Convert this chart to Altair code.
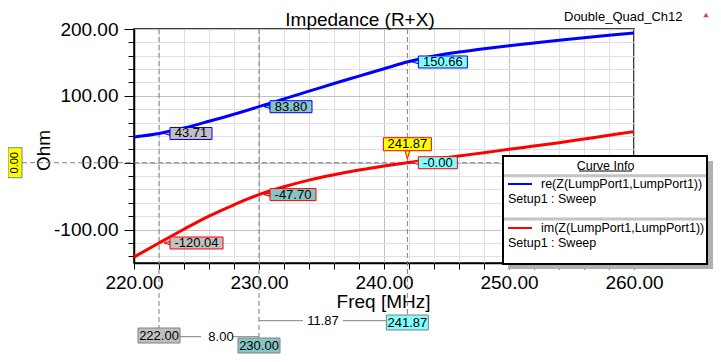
import altair as alt
import pandas as pd

# ---------------- data ----------------
freq = [220, 222, 224, 226, 228, 230, 232, 234, 236, 238, 240,
        242, 244, 246, 248, 250, 252, 254, 256, 258, 260]
re_z = [38.5, 43.71, 52.0, 62.0, 72.5, 83.80, 95.5, 107.0, 118.5, 129.5, 140.5,
        151.3, 159.5, 165.5, 170.5, 175.0, 179.2, 183.2, 187.0, 190.6, 194.0]
im_z = [-141.0, -120.04, -99.5, -80.0, -63.0, -47.70, -36.0, -26.0, -18.0, -11.0, -5.0,
        0.4, 5.3, 10.0, 15.0, 20.0, 25.0, 30.0, 35.5, 41.0, 46.5]
series_names = ["re(Z(LumpPort1,LumpPort1))", "im(Z(LumpPort1,LumpPort1))"]

marker_freq = [222.0, 230.0, 241.87]
re_marks = [43.71, 83.80, 150.66]
re_labels = ["43.71", "83.80", "150.66"]
im_marks = [-120.04, -47.70, 0.0]
im_labels = ["-120.04", "-47.70", "-0.00"]
freq_labels = ["222.00", "230.00", "241.87"]
delta_labels = ["8.00", "11.87"]
x_ticks = [220, 222, 224, 226, 228, 230, 232, 234, 236, 238, 240,
           242, 244, 246, 248, 250, 252, 254, 256, 258, 260]
y_ticks = [-140, -120, -100, -80, -60, -40, -20, 0, 20, 40, 60, 80,
           100, 120, 140, 160, 180, 200]

# ---------------- styles ----------------
FONT = "Liberation Sans"
BLUE, RED = "#0000ff", "#ff0000"
GRAY_BOX, TEAL_BOX, CYAN_BOX, YELLOW = "#c0c0c0", "#86c5c5", "#80ffff", "#ffff00"
DASH_GRAY = "#808080"
box_fills = [GRAY_BOX, TEAL_BOX, CYAN_BOX]
re_w = [42, 42, 49]
im_w = [53, 46, 39]
LEFT_TRI = "M -1 0 L 1 -0.6 L 1 0.6 Z"
DOWN_TRI = "M 0 1 L -0.6 -1 L 0.6 -1 Z"

xscale = alt.Scale(domain=[220, 260], nice=False, zero=False)
yscale = alt.Scale(domain=[-150, 200], nice=False, zero=False)

x_axis = alt.Axis(
    values=x_ticks,
    labelExpr="datum.value % 10 === 0 ? datum.value + '.00' : ''",
    title="Freq [MHz]", titleX=249, titleY=44, titleAlign="center",
    titleBaseline="alphabetic", titleFontSize=19, titleFontWeight="normal",
    labelFontSize=19, labelBaseline="alphabetic", labelPadding=19,
    labelOverlap=False, labelFlush=False,
    tickSize=6,
    gridColor={"condition": {"test": "datum.value % 10 === 0", "value": "#c0c0c0"},
               "value": "#e0e0e0"},
)
y_axis = alt.Axis(
    values=y_ticks,
    labelExpr="datum.value % 100 === 0 ? datum.value + '.00' : ''",
    title="Ohm", titleAngle=270, titleX=-91, titleY=121, titleAlign="center",
    titleBaseline="middle", titleFontSize=19, titleFontWeight="normal",
    labelFontSize=19, labelPadding=6, labelOverlap=False, labelFlush=False,
    tickSize={"condition": {"test": "datum.value % 100 === 0", "value": 10}, "value": 6},
    gridColor={"condition": {"test": "datum.value % 100 === 0", "value": "#c0c0c0"},
               "value": "#e0e0e0"},
)


def X(f="freq"):
    return alt.X(f"{f}:Q", scale=xscale, axis=x_axis)


def Y(f="ohm"):
    return alt.Y(f"{f}:Q", scale=yscale, axis=y_axis)


one = pd.DataFrame({"a": [0]})
layers = []

# zero dashed line
layers.append(alt.Chart(pd.DataFrame({"ohm": [0.0]})).mark_rule(
    color=DASH_GRAY, strokeDash=[5, 3], strokeWidth=1).encode(
    y=Y(), x=alt.value(-112), x2=alt.value(500)))

# vertical marker lines
bottoms = [299, 309, 286]
for f, b in zip(marker_freq, bottoms):
    layers.append(alt.Chart(pd.DataFrame({"freq": [f]})).mark_rule(
        color=DASH_GRAY, strokeDash=[5, 3], strokeWidth=1).encode(
        x=X(), y=alt.value(0), y2=alt.value(b)))

# curves
n = len(freq)
curve_df = pd.DataFrame({
    "freq": freq + freq,
    "ohm": re_z + im_z,
    "series": [series_names[0]] * n + [series_names[1]] * n,
})
layers.append(alt.Chart(curve_df).mark_line(strokeWidth=3, interpolate="monotone").encode(
    x=X(), y=Y(),
    color=alt.Color("series:N", scale=alt.Scale(domain=series_names, range=[BLUE, RED]),
                    legend=None)))

# side marker boxes
for vals, labels, widths, border in [(re_marks, re_labels, re_w, BLUE),
                                     (im_marks, im_labels, im_w, RED)]:
    for i in range(3):
        d = pd.DataFrame({"freq": [marker_freq[i]], "ohm": [vals[i]], "label": [labels[i]]})
        w = widths[i]
        fill = box_fills[i]
        layers.append(alt.Chart(d).mark_point(
            shape=LEFT_TRI, size=36, filled=True, fill=fill, stroke=border,
            strokeWidth=1, opacity=1, fillOpacity=1, xOffset=8).encode(x=X(), y=Y()))
        layers.append(alt.Chart(d).mark_rect(
            fill=fill, stroke=border, strokeWidth=1, opacity=1, fillOpacity=1,
            xOffset=11, x2Offset=11 + w, yOffset=-6, y2Offset=6).encode(
            x=X(), x2=alt.X2("freq:Q"), y=Y(), y2=alt.Y2("ohm:Q")))
        layers.append(alt.Chart(d).mark_text(
            dx=11 + w / 2, fontSize=13, font=FONT, color="black").encode(
            x=X(), y=Y(), text="label:N"))

# yellow frequency box above zero crossing
dz = pd.DataFrame({"freq": [marker_freq[2]], "ohm": [im_marks[2]], "label": [freq_labels[2]]})
layers.append(alt.Chart(dz).mark_point(
    shape=DOWN_TRI, size=64, filled=True, fill=YELLOW, stroke=RED,
    strokeWidth=1, opacity=1, fillOpacity=1, yOffset=-8).encode(x=X(), y=Y()))
layers.append(alt.Chart(dz).mark_rect(
    fill=YELLOW, stroke=RED, strokeWidth=1, opacity=1, fillOpacity=1,
    xOffset=-24, x2Offset=24, yOffset=-25, y2Offset=-12).encode(
    x=X(), x2=alt.X2("freq:Q"), y=Y(), y2=alt.Y2("ohm:Q")))
layers.append(alt.Chart(dz).mark_text(
    dy=-18.5, fontSize=13, font=FONT, color="black").encode(
    x=X(), y=Y(), text="label:N"))

# delta annotations below the axis
tops = [299, 309, 286]
for f, lab, fill, t in zip(marker_freq, freq_labels, box_fills, tops):
    d = pd.DataFrame({"freq": [f], "label": [lab]})
    layers.append(alt.Chart(d).mark_rect(
        fill=fill, stroke=DASH_GRAY, strokeWidth=1, opacity=1,
        xOffset=-21, x2Offset=21).encode(
        x=X(), x2=alt.X2("freq:Q"), y=alt.value(t), y2=alt.value(t + 15)))
    layers.append(alt.Chart(d).mark_text(fontSize=13, font=FONT, color="black").encode(
        x=X(), y=alt.value(t + 7.5), text="label:N"))

segments = [
    (marker_freq[0], 21, marker_freq[0], 42, 307.7),
    (marker_freq[1], -26, marker_freq[1], 0, 307.7),
    (marker_freq[1], 0, marker_freq[1], 44, 291.7),
    (marker_freq[1], 84, marker_freq[2], -21, 291.7),
]
for f1, o1, f2, o2, yp in segments:
    d = pd.DataFrame({"freq": [f1], "freq_end": [f2]})
    layers.append(alt.Chart(d).mark_rule(
        color=DASH_GRAY, strokeWidth=1, xOffset=o1, x2Offset=o2).encode(
        x=X(), x2=alt.X2("freq_end:Q"), y=alt.value(yp)))
for f, lab, dx, yp in [(marker_freq[0], delta_labels[0], 62, 307.7),
                       (marker_freq[1], delta_labels[1], 64, 291.7)]:
    d = pd.DataFrame({"freq": [f], "label": [lab]})
    layers.append(alt.Chart(d).mark_text(
        dx=dx, fontSize=13, font=FONT, color="black").encode(
        x=X(), y=alt.value(yp), text="label:N"))

# yellow 0.00 box at left
layers.append(alt.Chart(pd.DataFrame({"ohm": [0.0]})).mark_rect(
    fill=YELLOW, stroke=DASH_GRAY, strokeWidth=1, opacity=1,
    yOffset=-15, y2Offset=15).encode(
    y=Y(), y2=alt.Y2("ohm:Q"), x=alt.value(-126), x2=alt.value(-112)))
layers.append(alt.Chart(pd.DataFrame({"ohm": [0.0]})).mark_text(
    text="0.00", angle=270, fontSize=11, font=FONT, color="black").encode(
    y=Y(), x=alt.value(-119)))

# legend box ("Curve Info")
layers.append(alt.Chart(one).mark_rect(fill="#b0b0b0", opacity=1).encode(
    x=alt.value(374), x2=alt.value(579), y=alt.value(132), y2=alt.value(240)))
layers.append(alt.Chart(one).mark_rect(fill="white", stroke="black", strokeWidth=2,
                                       opacity=1).encode(
    x=alt.value(369), x2=alt.value(573), y=alt.value(127), y2=alt.value(235)))
for yp in [146.7, 190]:
    layers.append(alt.Chart(one).mark_rule(color="#c4c4c4", strokeWidth=3).encode(
        x=alt.value(370), x2=alt.value(572), y=alt.value(yp)))
layers.append(alt.Chart(one).mark_text(
    text="Curve Info", fontSize=12.5, font=FONT, color="black").encode(
    x=alt.value(471.5), y=alt.value(137)))
layers.append(alt.Chart(one).mark_rule(color="black", strokeWidth=1).encode(
    x=alt.value(445), x2=alt.value(498), y=alt.value(142)))
for name, col, yp in [(series_names[0], BLUE, 155), (series_names[1], RED, 199)]:
    layers.append(alt.Chart(one).mark_rule(color=col, strokeWidth=2).encode(
        x=alt.value(374), x2=alt.value(398), y=alt.value(yp)))
    layers.append(alt.Chart(one).mark_text(
        text=name, fontSize=12.5, font=FONT, color="black", align="left").encode(
        x=alt.value(407), y=alt.value(yp)))
    layers.append(alt.Chart(one).mark_text(
        text="Setup1 : Sweep", fontSize=12.5, font=FONT, color="black", align="left").encode(
        x=alt.value(374), y=alt.value(yp + 14.5)))

# titles
layers.append(alt.Chart(one).mark_text(
    text="Impedance (R+X)", fontSize=19, font=FONT, color="black",
    baseline="alphabetic").encode(x=alt.value(226), y=alt.value(-3.5)))
layers.append(alt.Chart(one).mark_text(
    text="Double_Quad_Ch12", fontSize=13, font=FONT, color="black",
    align="left", baseline="alphabetic").encode(x=alt.value(430), y=alt.value(-8)))
layers.append(alt.Chart(one).mark_point(
    shape="triangle-up", size=30, filled=True, fill="#d84848", opacity=1).encode(
    x=alt.value(572), y=alt.value(-14)))

chart = alt.layer(*layers).properties(
    width=500, height=234,
    padding={"left": 126, "top": 21, "right": 79, "bottom": 91},
    autosize=alt.AutoSizeParams(type="none"),
    background="white",
).configure_view(
    stroke="black", strokeWidth=1.5
).configure_axis(
    labelFont=FONT, titleFont=FONT, labelColor="black", titleColor="black",
    tickColor="black", tickWidth=1, domainColor="black", domainWidth=1.5,
    gridWidth=1,
)

chart.save("out.html", embed_options={"renderer": "svg", "actions": False})
